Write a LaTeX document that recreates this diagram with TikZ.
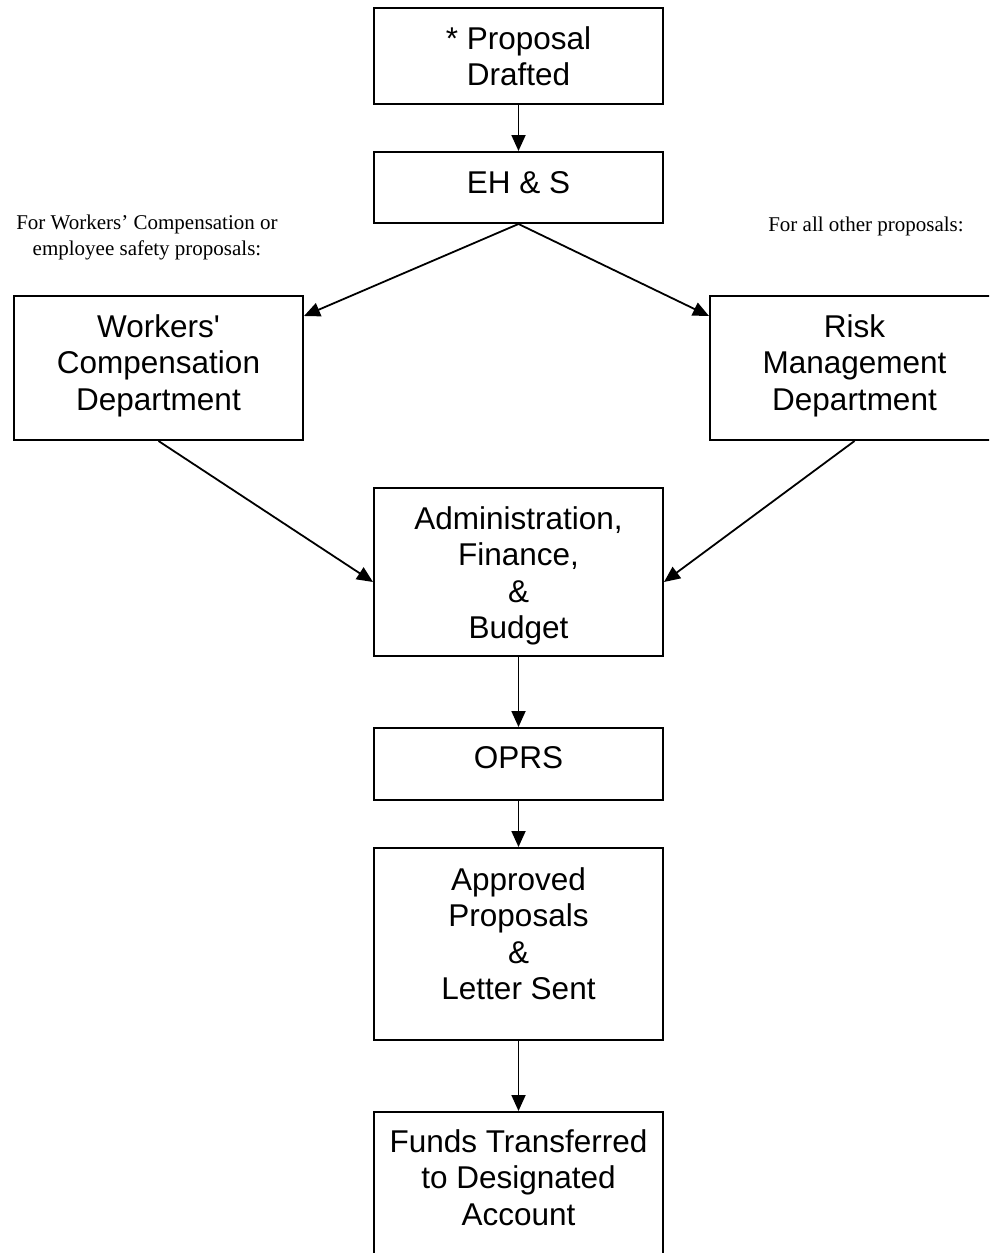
\documentclass[tikz,border=0pt]{standalone}
\usepackage{fontspec}
\setmainfont{Liberation Sans}
\newfontfamily\labelserif{Liberation Serif}
\usetikzlibrary{arrows.meta}
\tikzset{
  box/.style={draw=black, line width=2pt, rectangle, minimum width=289pt, inner sep=0pt},
  boxtext/.style={anchor=north, inner sep=0pt, align=center, font=\fontsize{31.5}{36.5}\selectfont},
  note/.style={inner sep=0pt, align=center, font=\labelserif\fontsize{21}{26}\selectfont},
  conn/.style={line width=1.8pt, -{Triangle[length=16pt,width=14pt]}}
}
\begin{document}
\begin{tikzpicture}[x=1pt,y=-1pt]
\useasboundingbox (0,0) rectangle (989,1253);
\clip (0,0) rectangle (989,1253);
% boxes
\node[box, minimum height=96pt]  (draft) at (518.5,56) {};
\node[box, minimum height=71pt]  (ehs)   at (518.5,187.5) {};
\node[box, minimum height=144pt] (wc)    at (158.5,368) {};
\node[box, minimum height=144pt] (risk)  at (854.5,368) {};
\node[box, minimum height=168pt] (admin) at (518.5,572) {};
\node[box, minimum height=72pt]  (oprs)  at (518.5,764) {};
\node[box, minimum height=192pt] (appr)  at (518.5,944) {};
\node[box, minimum height=170pt] (funds) at (518.5,1197) {};
% texts
\node[boxtext] (tdraft) at ([yshift=-19pt]draft.north) {* Proposal\\Drafted};
\node[boxtext] (tehs)   at ([yshift=-20pt]ehs.north) {EH \& S};
\node[boxtext] (twc)    at ([yshift=-19pt]wc.north) {Workers\textquotesingle\\Compensation\\Department};
\node[boxtext] (trisk)  at ([yshift=-19pt]risk.north) {Risk\\Management\\Department};
\node[boxtext] (tadmin) at ([yshift=-19pt]admin.north) {Administration,\\Finance,\\\&\\Budget};
\node[boxtext] (toprs)  at ([yshift=-19pt]oprs.north) {OPRS};
\node[boxtext] (tappr)  at ([yshift=-20pt]appr.north) {Approved\\Proposals\\\&\\Letter Sent};
\node[boxtext] (tfunds) at ([yshift=-18pt]funds.north) {Funds Transferred\\to Designated\\Account};
% notes
\node[note, anchor=north] (noteL) at (147,214.5) {For Workers’ Compensation or\\employee safety proposals:};
\node[note, anchor=base] (noteR) at (866,231) {For all other proposals:};
% connectors
\draw[conn] (draft.south) -- (ehs.north);
\draw[conn] (ehs.south) -- ([yshift=-21pt]wc.north east);
\draw[conn] (ehs.south) -- ([yshift=-21pt]risk.north west);
\draw[conn] (wc.south) -- ([yshift=-95pt]admin.north west);
\draw[conn] (risk.south) -- ([yshift=-95pt]admin.north east);
\draw[conn] (admin.south) -- (oprs.north);
\draw[conn] (oprs.south) -- (appr.north);
\draw[conn] (appr.south) -- (funds.north);
\end{tikzpicture}
\end{document}
